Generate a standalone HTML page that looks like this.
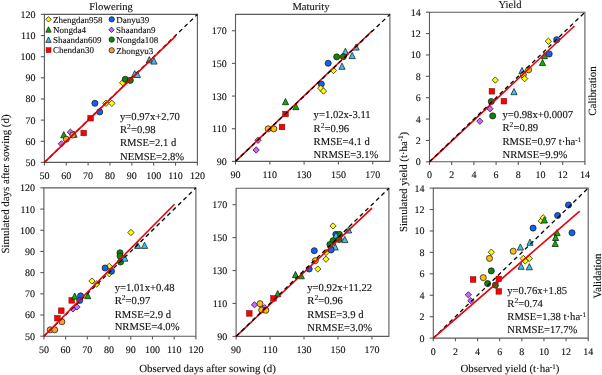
<!DOCTYPE html><html><head><meta charset="utf-8"><style>html,body{margin:0;padding:0;background:#fff;width:602px;height:375px;overflow:hidden}svg{display:block}#w{will-change:transform;background:#fff}text{font-family:"Liberation Serif",serif;fill:#111;stroke:#111;stroke-width:0.12px;text-rendering:geometricPrecision}</style></head><body>
<div id="w"><svg width="602" height="375" viewBox="0 0 602 375">
<text x="111" y="10" text-anchor="middle" font-size="10.6">Flowering</text>
<text x="311" y="10" text-anchor="middle" font-size="10.6">Maturity</text>
<text x="510" y="8.3" text-anchor="middle" font-size="10.6">Yield</text>
<text transform="translate(9.3 184) rotate(-90)" text-anchor="middle" font-size="10.9">Simulated days after sowing (d)</text>
<text x="207.5" y="371.5" text-anchor="middle" font-size="10.9">Observed days after sowing (d)</text>
<text transform="translate(406.5 182) rotate(-90)" text-anchor="middle" font-size="10.75">Simulated yield (t·ha<tspan dy="-3.5" font-size="7">-1</tspan><tspan dy="3.5">)</tspan></text>
<text x="510" y="372" text-anchor="middle" font-size="10.9">Observed yield (t·ha<tspan dy="-3.5" font-size="7">-1</tspan><tspan dy="3.5">)</tspan></text>
<text transform="translate(596 91) rotate(-90)" text-anchor="middle" font-size="11">Calibration</text>
<text transform="translate(601 276) rotate(-90)" text-anchor="middle" font-size="11">Validation</text>
<path d="M44.4 14.4H197.4V162.4H44.4Z" fill="none" stroke="#5a5a5a" stroke-width="1.1"/>
<line x1="44.40" y1="162.4" x2="44.40" y2="165.60" stroke="#5a5a5a" stroke-width="1.1"/>
<line x1="40.80" y1="162.40" x2="44.4" y2="162.40" stroke="#5a5a5a" stroke-width="1.1"/>
<text x="44.4" y="179.0" text-anchor="middle" font-size="10">50</text>
<text x="35.6" y="165.8" text-anchor="end" font-size="10">50</text>
<line x1="66.26" y1="162.4" x2="66.26" y2="165.60" stroke="#5a5a5a" stroke-width="1.1"/>
<line x1="40.80" y1="141.26" x2="44.4" y2="141.26" stroke="#5a5a5a" stroke-width="1.1"/>
<text x="66.3" y="179.0" text-anchor="middle" font-size="10">60</text>
<text x="35.6" y="144.7" text-anchor="end" font-size="10">60</text>
<line x1="88.11" y1="162.4" x2="88.11" y2="165.60" stroke="#5a5a5a" stroke-width="1.1"/>
<line x1="40.80" y1="120.11" x2="44.4" y2="120.11" stroke="#5a5a5a" stroke-width="1.1"/>
<text x="88.1" y="179.0" text-anchor="middle" font-size="10">70</text>
<text x="35.6" y="123.5" text-anchor="end" font-size="10">70</text>
<line x1="109.97" y1="162.4" x2="109.97" y2="165.60" stroke="#5a5a5a" stroke-width="1.1"/>
<line x1="40.80" y1="98.97" x2="44.4" y2="98.97" stroke="#5a5a5a" stroke-width="1.1"/>
<text x="110.0" y="179.0" text-anchor="middle" font-size="10">80</text>
<text x="35.6" y="102.4" text-anchor="end" font-size="10">80</text>
<line x1="131.83" y1="162.4" x2="131.83" y2="165.60" stroke="#5a5a5a" stroke-width="1.1"/>
<line x1="40.80" y1="77.83" x2="44.4" y2="77.83" stroke="#5a5a5a" stroke-width="1.1"/>
<text x="131.8" y="179.0" text-anchor="middle" font-size="10">90</text>
<text x="35.6" y="81.2" text-anchor="end" font-size="10">90</text>
<line x1="153.69" y1="162.4" x2="153.69" y2="165.60" stroke="#5a5a5a" stroke-width="1.1"/>
<line x1="40.80" y1="56.69" x2="44.4" y2="56.69" stroke="#5a5a5a" stroke-width="1.1"/>
<text x="153.7" y="179.0" text-anchor="middle" font-size="10">100</text>
<text x="35.6" y="60.1" text-anchor="end" font-size="10">100</text>
<line x1="175.54" y1="162.4" x2="175.54" y2="165.60" stroke="#5a5a5a" stroke-width="1.1"/>
<line x1="40.80" y1="35.54" x2="44.4" y2="35.54" stroke="#5a5a5a" stroke-width="1.1"/>
<text x="175.5" y="179.0" text-anchor="middle" font-size="10">110</text>
<text x="35.6" y="38.9" text-anchor="end" font-size="10">110</text>
<line x1="197.40" y1="162.4" x2="197.40" y2="165.60" stroke="#5a5a5a" stroke-width="1.1"/>
<line x1="40.80" y1="14.40" x2="44.4" y2="14.40" stroke="#5a5a5a" stroke-width="1.1"/>
<text x="197.4" y="179.0" text-anchor="middle" font-size="10">120</text>
<text x="35.6" y="17.8" text-anchor="end" font-size="10">120</text>
<path d="M48.5 16.6L51.2 19.3L48.5 22.0L45.8 19.3Z" fill="#FFFF00" stroke="#1a1a1a" stroke-width="0.75"/>
<text x="53.1" y="22.5" font-size="9.0">Zhengdan958</text>
<path d="M48.5 26.8L51.2 32.2L45.8 32.2Z" fill="#00B400" stroke="#1a1a1a" stroke-width="0.75" stroke-linejoin="miter"/>
<text x="53.1" y="33.0" font-size="9.0">Nongda4</text>
<path d="M48.5 37.0L51.2 42.4L45.8 42.4Z" fill="#30C8F0" stroke="#1a1a1a" stroke-width="0.75" stroke-linejoin="miter"/>
<text x="53.1" y="43.2" font-size="9.0">Shaandan609</text>
<rect x="46.1" y="47.7" width="4.9" height="4.9" fill="#FF0000" stroke="#700" stroke-width="0.5"/>
<text x="53.1" y="53.3" font-size="9.0">Chendan30</text>
<circle cx="111.7" cy="19.3" r="2.65" fill="#0A64F5" stroke="#1a1a1a" stroke-width="0.75"/>
<text x="116.3" y="22.5" font-size="9.0">Danyu39</text>
<path d="M111.5 27.1L114.2 29.8L111.5 32.5L108.8 29.8Z" fill="#CC66FF" stroke="#1a1a1a" stroke-width="0.75"/>
<text x="116.1" y="33.0" font-size="9.0">Shaandan9</text>
<circle cx="111.7" cy="39.6" r="2.65" fill="#0E850E" stroke="#1a1a1a" stroke-width="0.75"/>
<text x="116.3" y="42.8" font-size="9.0">Nongda108</text>
<circle cx="111.7" cy="50.3" r="2.65" fill="#F5A030" stroke="#1a1a1a" stroke-width="0.75"/>
<text x="116.3" y="53.5" font-size="9.0">Zhongyu3</text>
<text x="120" y="119.7" font-size="10.65">y=0.97x+2.70</text>
<text x="120" y="132.5" font-size="10.65">R<tspan dy="-4" font-size="7.6">2</tspan><tspan dy="4">=0.98</tspan></text>
<text x="120" y="146.1" font-size="10.65">RMSE=2.1 d</text>
<text x="120" y="159.8" font-size="10.65">NEMSE=2.8%</text>
<path d="M235.5 14.4H389.9V161.4H235.5Z" fill="none" stroke="#5a5a5a" stroke-width="1.1"/>
<line x1="235.50" y1="161.4" x2="235.50" y2="164.60" stroke="#5a5a5a" stroke-width="1.1"/>
<line x1="231.90" y1="161.40" x2="235.5" y2="161.40" stroke="#5a5a5a" stroke-width="1.1"/>
<text x="235.5" y="178.0" text-anchor="middle" font-size="10">90</text>
<text x="226.7" y="164.8" text-anchor="end" font-size="10">90</text>
<line x1="269.81" y1="161.4" x2="269.81" y2="164.60" stroke="#5a5a5a" stroke-width="1.1"/>
<line x1="231.90" y1="128.73" x2="235.5" y2="128.73" stroke="#5a5a5a" stroke-width="1.1"/>
<text x="269.8" y="178.0" text-anchor="middle" font-size="10">110</text>
<text x="226.7" y="132.1" text-anchor="end" font-size="10">110</text>
<line x1="304.12" y1="161.4" x2="304.12" y2="164.60" stroke="#5a5a5a" stroke-width="1.1"/>
<line x1="231.90" y1="96.07" x2="235.5" y2="96.07" stroke="#5a5a5a" stroke-width="1.1"/>
<text x="304.1" y="178.0" text-anchor="middle" font-size="10">130</text>
<text x="226.7" y="99.5" text-anchor="end" font-size="10">130</text>
<line x1="338.43" y1="161.4" x2="338.43" y2="164.60" stroke="#5a5a5a" stroke-width="1.1"/>
<line x1="231.90" y1="63.40" x2="235.5" y2="63.40" stroke="#5a5a5a" stroke-width="1.1"/>
<text x="338.4" y="178.0" text-anchor="middle" font-size="10">150</text>
<text x="226.7" y="66.8" text-anchor="end" font-size="10">150</text>
<line x1="372.74" y1="161.4" x2="372.74" y2="164.60" stroke="#5a5a5a" stroke-width="1.1"/>
<line x1="231.90" y1="30.73" x2="235.5" y2="30.73" stroke="#5a5a5a" stroke-width="1.1"/>
<text x="372.7" y="178.0" text-anchor="middle" font-size="10">170</text>
<text x="226.7" y="34.1" text-anchor="end" font-size="10">170</text>
<text x="313.6" y="118.1" font-size="10.65">y=1.02x-3.11</text>
<text x="313.6" y="131.7" font-size="10.65">R<tspan dy="-4" font-size="7.6">2</tspan><tspan dy="4">=0.96</tspan></text>
<text x="313.6" y="145.0" font-size="10.65">RMSE=4.1 d</text>
<text x="313.6" y="158.2" font-size="10.65">NRMSE=3.1%</text>
<path d="M429.5 12.2H584.9V161.8H429.5Z" fill="none" stroke="#5a5a5a" stroke-width="1.1"/>
<line x1="429.50" y1="161.8" x2="429.50" y2="165.00" stroke="#5a5a5a" stroke-width="1.1"/>
<line x1="425.90" y1="161.80" x2="429.5" y2="161.80" stroke="#5a5a5a" stroke-width="1.1"/>
<text x="429.5" y="178.4" text-anchor="middle" font-size="10">0</text>
<text x="420.7" y="165.2" text-anchor="end" font-size="10">0</text>
<line x1="451.70" y1="161.8" x2="451.70" y2="165.00" stroke="#5a5a5a" stroke-width="1.1"/>
<line x1="425.90" y1="140.43" x2="429.5" y2="140.43" stroke="#5a5a5a" stroke-width="1.1"/>
<text x="451.7" y="178.4" text-anchor="middle" font-size="10">2</text>
<text x="420.7" y="143.8" text-anchor="end" font-size="10">2</text>
<line x1="473.90" y1="161.8" x2="473.90" y2="165.00" stroke="#5a5a5a" stroke-width="1.1"/>
<line x1="425.90" y1="119.06" x2="429.5" y2="119.06" stroke="#5a5a5a" stroke-width="1.1"/>
<text x="473.9" y="178.4" text-anchor="middle" font-size="10">4</text>
<text x="420.7" y="122.5" text-anchor="end" font-size="10">4</text>
<line x1="496.10" y1="161.8" x2="496.10" y2="165.00" stroke="#5a5a5a" stroke-width="1.1"/>
<line x1="425.90" y1="97.69" x2="429.5" y2="97.69" stroke="#5a5a5a" stroke-width="1.1"/>
<text x="496.1" y="178.4" text-anchor="middle" font-size="10">6</text>
<text x="420.7" y="101.1" text-anchor="end" font-size="10">6</text>
<line x1="518.30" y1="161.8" x2="518.30" y2="165.00" stroke="#5a5a5a" stroke-width="1.1"/>
<line x1="425.90" y1="76.31" x2="429.5" y2="76.31" stroke="#5a5a5a" stroke-width="1.1"/>
<text x="518.3" y="178.4" text-anchor="middle" font-size="10">8</text>
<text x="420.7" y="79.7" text-anchor="end" font-size="10">8</text>
<line x1="540.50" y1="161.8" x2="540.50" y2="165.00" stroke="#5a5a5a" stroke-width="1.1"/>
<line x1="425.90" y1="54.94" x2="429.5" y2="54.94" stroke="#5a5a5a" stroke-width="1.1"/>
<text x="540.5" y="178.4" text-anchor="middle" font-size="10">10</text>
<text x="420.7" y="58.3" text-anchor="end" font-size="10">10</text>
<line x1="562.70" y1="161.8" x2="562.70" y2="165.00" stroke="#5a5a5a" stroke-width="1.1"/>
<line x1="425.90" y1="33.57" x2="429.5" y2="33.57" stroke="#5a5a5a" stroke-width="1.1"/>
<text x="562.7" y="178.4" text-anchor="middle" font-size="10">12</text>
<text x="420.7" y="37.0" text-anchor="end" font-size="10">12</text>
<line x1="584.90" y1="161.8" x2="584.90" y2="165.00" stroke="#5a5a5a" stroke-width="1.1"/>
<line x1="425.90" y1="12.20" x2="429.5" y2="12.20" stroke="#5a5a5a" stroke-width="1.1"/>
<text x="584.9" y="178.4" text-anchor="middle" font-size="10">14</text>
<text x="420.7" y="15.6" text-anchor="end" font-size="10">14</text>
<text x="502.5" y="118.2" font-size="10.65">y=0.98x+0.0007</text>
<text x="502.5" y="131.2" font-size="10.65">R<tspan dy="-4" font-size="7.6">2</tspan><tspan dy="4">=0.89</tspan></text>
<text x="502.5" y="145.1" font-size="10.65">RMSE=0.97 t·ha<tspan dy="-3.5" font-size="7">-1</tspan></text>
<text x="502.5" y="158.1" font-size="10.65">NRMSE=9.9%</text>
<path d="M43.9 187.9H195.9V336.2H43.9Z" fill="none" stroke="#5a5a5a" stroke-width="1.1"/>
<line x1="43.90" y1="336.2" x2="43.90" y2="339.40" stroke="#5a5a5a" stroke-width="1.1"/>
<line x1="40.30" y1="336.20" x2="43.9" y2="336.20" stroke="#5a5a5a" stroke-width="1.1"/>
<text x="43.9" y="352.8" text-anchor="middle" font-size="10">50</text>
<text x="35.1" y="339.6" text-anchor="end" font-size="10">50</text>
<line x1="65.61" y1="336.2" x2="65.61" y2="339.40" stroke="#5a5a5a" stroke-width="1.1"/>
<line x1="40.30" y1="315.01" x2="43.9" y2="315.01" stroke="#5a5a5a" stroke-width="1.1"/>
<text x="65.6" y="352.8" text-anchor="middle" font-size="10">60</text>
<text x="35.1" y="318.4" text-anchor="end" font-size="10">60</text>
<line x1="87.33" y1="336.2" x2="87.33" y2="339.40" stroke="#5a5a5a" stroke-width="1.1"/>
<line x1="40.30" y1="293.83" x2="43.9" y2="293.83" stroke="#5a5a5a" stroke-width="1.1"/>
<text x="87.3" y="352.8" text-anchor="middle" font-size="10">70</text>
<text x="35.1" y="297.2" text-anchor="end" font-size="10">70</text>
<line x1="109.04" y1="336.2" x2="109.04" y2="339.40" stroke="#5a5a5a" stroke-width="1.1"/>
<line x1="40.30" y1="272.64" x2="43.9" y2="272.64" stroke="#5a5a5a" stroke-width="1.1"/>
<text x="109.0" y="352.8" text-anchor="middle" font-size="10">80</text>
<text x="35.1" y="276.0" text-anchor="end" font-size="10">80</text>
<line x1="130.76" y1="336.2" x2="130.76" y2="339.40" stroke="#5a5a5a" stroke-width="1.1"/>
<line x1="40.30" y1="251.46" x2="43.9" y2="251.46" stroke="#5a5a5a" stroke-width="1.1"/>
<text x="130.8" y="352.8" text-anchor="middle" font-size="10">90</text>
<text x="35.1" y="254.9" text-anchor="end" font-size="10">90</text>
<line x1="152.47" y1="336.2" x2="152.47" y2="339.40" stroke="#5a5a5a" stroke-width="1.1"/>
<line x1="40.30" y1="230.27" x2="43.9" y2="230.27" stroke="#5a5a5a" stroke-width="1.1"/>
<text x="152.5" y="352.8" text-anchor="middle" font-size="10">100</text>
<text x="35.1" y="233.7" text-anchor="end" font-size="10">100</text>
<line x1="174.19" y1="336.2" x2="174.19" y2="339.40" stroke="#5a5a5a" stroke-width="1.1"/>
<line x1="40.30" y1="209.09" x2="43.9" y2="209.09" stroke="#5a5a5a" stroke-width="1.1"/>
<text x="174.2" y="352.8" text-anchor="middle" font-size="10">110</text>
<text x="35.1" y="212.5" text-anchor="end" font-size="10">110</text>
<line x1="195.90" y1="336.2" x2="195.90" y2="339.40" stroke="#5a5a5a" stroke-width="1.1"/>
<line x1="40.30" y1="187.90" x2="43.9" y2="187.90" stroke="#5a5a5a" stroke-width="1.1"/>
<text x="195.9" y="352.8" text-anchor="middle" font-size="10">120</text>
<text x="35.1" y="191.3" text-anchor="end" font-size="10">120</text>
<text x="114.7" y="290.8" font-size="10.65">y=1.01x+0.48</text>
<text x="114.7" y="303.8" font-size="10.65">R<tspan dy="-4" font-size="7.6">2</tspan><tspan dy="4">=0.97</tspan></text>
<text x="114.7" y="317.7" font-size="10.65">RMSE=2.9 d</text>
<text x="114.7" y="329.8" font-size="10.65">NRMSE=4.0%</text>
<path d="M236.1 188.2H388.9V336.4H236.1Z" fill="none" stroke="#5a5a5a" stroke-width="1.1"/>
<line x1="236.10" y1="336.4" x2="236.10" y2="339.60" stroke="#5a5a5a" stroke-width="1.1"/>
<line x1="232.50" y1="336.40" x2="236.1" y2="336.40" stroke="#5a5a5a" stroke-width="1.1"/>
<text x="236.1" y="353.0" text-anchor="middle" font-size="10">90</text>
<text x="227.3" y="339.8" text-anchor="end" font-size="10">90</text>
<line x1="270.06" y1="336.4" x2="270.06" y2="339.60" stroke="#5a5a5a" stroke-width="1.1"/>
<line x1="232.50" y1="303.47" x2="236.1" y2="303.47" stroke="#5a5a5a" stroke-width="1.1"/>
<text x="270.1" y="353.0" text-anchor="middle" font-size="10">110</text>
<text x="227.3" y="306.9" text-anchor="end" font-size="10">110</text>
<line x1="304.01" y1="336.4" x2="304.01" y2="339.60" stroke="#5a5a5a" stroke-width="1.1"/>
<line x1="232.50" y1="270.53" x2="236.1" y2="270.53" stroke="#5a5a5a" stroke-width="1.1"/>
<text x="304.0" y="353.0" text-anchor="middle" font-size="10">130</text>
<text x="227.3" y="273.9" text-anchor="end" font-size="10">130</text>
<line x1="337.97" y1="336.4" x2="337.97" y2="339.60" stroke="#5a5a5a" stroke-width="1.1"/>
<line x1="232.50" y1="237.60" x2="236.1" y2="237.60" stroke="#5a5a5a" stroke-width="1.1"/>
<text x="338.0" y="353.0" text-anchor="middle" font-size="10">150</text>
<text x="227.3" y="241.0" text-anchor="end" font-size="10">150</text>
<line x1="371.92" y1="336.4" x2="371.92" y2="339.60" stroke="#5a5a5a" stroke-width="1.1"/>
<line x1="232.50" y1="204.67" x2="236.1" y2="204.67" stroke="#5a5a5a" stroke-width="1.1"/>
<text x="371.9" y="353.0" text-anchor="middle" font-size="10">170</text>
<text x="227.3" y="208.1" text-anchor="end" font-size="10">170</text>
<text x="307.3" y="290.8" font-size="10.65">y=0.92x+11.22</text>
<text x="307.3" y="303.8" font-size="10.65">R<tspan dy="-4" font-size="7.6">2</tspan><tspan dy="4">=0.96</tspan></text>
<text x="307.3" y="317.7" font-size="10.65">RMSE=3.9 d</text>
<text x="307.3" y="330.5" font-size="10.65">NRMSE=3.0%</text>
<path d="M433.3 188.1H588.2V338.1H433.3Z" fill="none" stroke="#5a5a5a" stroke-width="1.1"/>
<line x1="433.30" y1="338.1" x2="433.30" y2="341.30" stroke="#5a5a5a" stroke-width="1.1"/>
<line x1="429.70" y1="338.10" x2="433.3" y2="338.10" stroke="#5a5a5a" stroke-width="1.1"/>
<text x="433.3" y="354.7" text-anchor="middle" font-size="10">0</text>
<text x="424.5" y="341.5" text-anchor="end" font-size="10">0</text>
<line x1="455.43" y1="338.1" x2="455.43" y2="341.30" stroke="#5a5a5a" stroke-width="1.1"/>
<line x1="429.70" y1="316.67" x2="433.3" y2="316.67" stroke="#5a5a5a" stroke-width="1.1"/>
<text x="455.4" y="354.7" text-anchor="middle" font-size="10">2</text>
<text x="424.5" y="320.1" text-anchor="end" font-size="10">2</text>
<line x1="477.56" y1="338.1" x2="477.56" y2="341.30" stroke="#5a5a5a" stroke-width="1.1"/>
<line x1="429.70" y1="295.24" x2="433.3" y2="295.24" stroke="#5a5a5a" stroke-width="1.1"/>
<text x="477.6" y="354.7" text-anchor="middle" font-size="10">4</text>
<text x="424.5" y="298.6" text-anchor="end" font-size="10">4</text>
<line x1="499.69" y1="338.1" x2="499.69" y2="341.30" stroke="#5a5a5a" stroke-width="1.1"/>
<line x1="429.70" y1="273.81" x2="433.3" y2="273.81" stroke="#5a5a5a" stroke-width="1.1"/>
<text x="499.7" y="354.7" text-anchor="middle" font-size="10">6</text>
<text x="424.5" y="277.2" text-anchor="end" font-size="10">6</text>
<line x1="521.81" y1="338.1" x2="521.81" y2="341.30" stroke="#5a5a5a" stroke-width="1.1"/>
<line x1="429.70" y1="252.39" x2="433.3" y2="252.39" stroke="#5a5a5a" stroke-width="1.1"/>
<text x="521.8" y="354.7" text-anchor="middle" font-size="10">8</text>
<text x="424.5" y="255.8" text-anchor="end" font-size="10">8</text>
<line x1="543.94" y1="338.1" x2="543.94" y2="341.30" stroke="#5a5a5a" stroke-width="1.1"/>
<line x1="429.70" y1="230.96" x2="433.3" y2="230.96" stroke="#5a5a5a" stroke-width="1.1"/>
<text x="543.9" y="354.7" text-anchor="middle" font-size="10">10</text>
<text x="424.5" y="234.4" text-anchor="end" font-size="10">10</text>
<line x1="566.07" y1="338.1" x2="566.07" y2="341.30" stroke="#5a5a5a" stroke-width="1.1"/>
<line x1="429.70" y1="209.53" x2="433.3" y2="209.53" stroke="#5a5a5a" stroke-width="1.1"/>
<text x="566.1" y="354.7" text-anchor="middle" font-size="10">12</text>
<text x="424.5" y="212.9" text-anchor="end" font-size="10">12</text>
<line x1="588.20" y1="338.1" x2="588.20" y2="341.30" stroke="#5a5a5a" stroke-width="1.1"/>
<line x1="429.70" y1="188.10" x2="433.3" y2="188.10" stroke="#5a5a5a" stroke-width="1.1"/>
<text x="588.2" y="354.7" text-anchor="middle" font-size="10">14</text>
<text x="424.5" y="191.5" text-anchor="end" font-size="10">14</text>
<text x="507.3" y="293.5" font-size="10.65">y=0.76x+1.85</text>
<text x="507.3" y="307.3" font-size="10.65">R<tspan dy="-4" font-size="7.6">2</tspan><tspan dy="4">=0.74</tspan></text>
<text x="507.3" y="320.3" font-size="10.65">RMSE=1.38 t·ha<tspan dy="-3.5" font-size="7">-1</tspan></text>
<text x="507.3" y="333.3" font-size="10.65">NRMSE=17.7%</text>
<circle cx="94.9" cy="103.3" r="3.05" fill="#0A64F5" stroke="#1a1a1a" stroke-width="0.75"/>
<path d="M106.0 100.1L109.2 103.3L106.0 106.5L102.8 103.3Z" fill="#FFFF00" stroke="#1a1a1a" stroke-width="0.75"/>
<path d="M111.8 100.1L115.0 103.3L111.8 106.5L108.6 103.3Z" fill="#FFFF00" stroke="#1a1a1a" stroke-width="0.75"/>
<circle cx="99.7" cy="111.9" r="3.05" fill="#0A64F5" stroke="#1a1a1a" stroke-width="0.75"/>
<rect x="87.8" y="115.4" width="5.6" height="5.6" fill="#FF0000" stroke="#700" stroke-width="0.5"/>
<rect x="80.9" y="130.2" width="5.6" height="5.6" fill="#FF0000" stroke="#700" stroke-width="0.5"/>
<path d="M63.8 131.6L66.9 137.8L60.7 137.8Z" fill="#00B400" stroke="#1a1a1a" stroke-width="0.75" stroke-linejoin="miter"/>
<path d="M70.4 129.0L73.6 132.2L70.4 135.3L67.2 132.2Z" fill="#CC66FF" stroke="#1a1a1a" stroke-width="0.75"/>
<path d="M74.0 131.1L77.1 137.3L70.9 137.3Z" fill="#30C8F0" stroke="#1a1a1a" stroke-width="0.75" stroke-linejoin="miter"/>
<circle cx="72.9" cy="135.0" r="3.05" fill="#F5A030" stroke="#1a1a1a" stroke-width="0.75"/>
<circle cx="66.3" cy="139.2" r="3.05" fill="#F5A030" stroke="#1a1a1a" stroke-width="0.75"/>
<path d="M61.4 140.7L64.5 143.8L61.4 147.0L58.2 143.8Z" fill="#CC66FF" stroke="#1a1a1a" stroke-width="0.75"/>
<path d="M149.3 56.6L152.4 62.8L146.2 62.8Z" fill="#30C8F0" stroke="#1a1a1a" stroke-width="0.75" stroke-linejoin="miter"/>
<path d="M154.0 57.9L157.1 64.1L150.9 64.1Z" fill="#30C8F0" stroke="#1a1a1a" stroke-width="0.75" stroke-linejoin="miter"/>
<path d="M134.7 70.6L137.8 76.8L131.6 76.8Z" fill="#30C8F0" stroke="#1a1a1a" stroke-width="0.75" stroke-linejoin="miter"/>
<path d="M137.3 71.3L140.4 77.5L134.2 77.5Z" fill="#30C8F0" stroke="#1a1a1a" stroke-width="0.75" stroke-linejoin="miter"/>
<path d="M122.7 79.5L125.9 82.7L122.7 85.9L119.5 82.7Z" fill="#FFFF00" stroke="#1a1a1a" stroke-width="0.75"/>
<circle cx="125.3" cy="79.3" r="3.05" fill="#0E850E" stroke="#1a1a1a" stroke-width="0.75"/>
<circle cx="130.3" cy="80.4" r="3.05" fill="#0E850E" stroke="#1a1a1a" stroke-width="0.75"/>
<path d="M285.5 98.5L288.6 104.7L282.4 104.7Z" fill="#00B400" stroke="#1a1a1a" stroke-width="0.75" stroke-linejoin="miter"/>
<path d="M295.9 103.5L299.0 109.7L292.8 109.7Z" fill="#00B400" stroke="#1a1a1a" stroke-width="0.75" stroke-linejoin="miter"/>
<rect x="282.7" y="111.2" width="5.6" height="5.6" fill="#FF0000" stroke="#700" stroke-width="0.5"/>
<rect x="279.2" y="124.2" width="5.6" height="5.6" fill="#FF0000" stroke="#700" stroke-width="0.5"/>
<circle cx="268.2" cy="128.8" r="3.05" fill="#FFC000" stroke="#1a1a1a" stroke-width="0.75"/>
<circle cx="273.8" cy="128.8" r="3.05" fill="#FFC000" stroke="#1a1a1a" stroke-width="0.75"/>
<path d="M258.0 137.2L261.1 140.3L258.0 143.5L254.8 140.3Z" fill="#CC66FF" stroke="#1a1a1a" stroke-width="0.75"/>
<path d="M256.2 146.8L259.3 150.0L256.2 153.2L253.0 150.0Z" fill="#CC66FF" stroke="#1a1a1a" stroke-width="0.75"/>
<path d="M356.1 43.9L359.2 50.1L353.0 50.1Z" fill="#30C8F0" stroke="#1a1a1a" stroke-width="0.75" stroke-linejoin="miter"/>
<path d="M345.4 48.2L348.5 54.4L342.3 54.4Z" fill="#30C8F0" stroke="#1a1a1a" stroke-width="0.75" stroke-linejoin="miter"/>
<path d="M352.2 52.4L355.3 58.6L349.1 58.6Z" fill="#30C8F0" stroke="#1a1a1a" stroke-width="0.75" stroke-linejoin="miter"/>
<circle cx="336.7" cy="56.9" r="3.05" fill="#0E850E" stroke="#1a1a1a" stroke-width="0.75"/>
<circle cx="343.3" cy="56.7" r="3.05" fill="#0E850E" stroke="#1a1a1a" stroke-width="0.75"/>
<circle cx="328.2" cy="63.3" r="3.05" fill="#0A64F5" stroke="#1a1a1a" stroke-width="0.75"/>
<path d="M342.0 63.1L345.1 69.3L338.9 69.3Z" fill="#30C8F0" stroke="#1a1a1a" stroke-width="0.75" stroke-linejoin="miter"/>
<path d="M333.5 67.3L336.6 70.5L333.5 73.7L330.4 70.5Z" fill="#FFFF00" stroke="#1a1a1a" stroke-width="0.75"/>
<circle cx="321.3" cy="84.0" r="3.05" fill="#0A64F5" stroke="#1a1a1a" stroke-width="0.75"/>
<path d="M320.7 85.0L323.8 88.2L320.7 91.4L317.6 88.2Z" fill="#FFFF00" stroke="#1a1a1a" stroke-width="0.75"/>
<path d="M323.5 87.8L326.6 91.0L323.5 94.2L320.4 91.0Z" fill="#FFFF00" stroke="#1a1a1a" stroke-width="0.75"/>
<path d="M548.4 38.1L551.5 41.2L548.4 44.4L545.2 41.2Z" fill="#FFFF00" stroke="#1a1a1a" stroke-width="0.75"/>
<circle cx="556.7" cy="39.7" r="3.05" fill="#0A64F5" stroke="#1a1a1a" stroke-width="0.75"/>
<circle cx="549.2" cy="54.0" r="3.05" fill="#0A64F5" stroke="#1a1a1a" stroke-width="0.75"/>
<path d="M544.4 52.5L547.5 58.7L541.3 58.7Z" fill="#00B400" stroke="#1a1a1a" stroke-width="0.75" stroke-linejoin="miter"/>
<path d="M542.5 59.4L545.6 65.6L539.4 65.6Z" fill="#00B400" stroke="#1a1a1a" stroke-width="0.75" stroke-linejoin="miter"/>
<path d="M522.0 67.4L525.1 73.6L518.9 73.6Z" fill="#30C8F0" stroke="#1a1a1a" stroke-width="0.75" stroke-linejoin="miter"/>
<circle cx="528.6" cy="69.8" r="3.05" fill="#FFC000" stroke="#1a1a1a" stroke-width="0.75"/>
<circle cx="523.3" cy="74.8" r="3.05" fill="#FFC000" stroke="#1a1a1a" stroke-width="0.75"/>
<path d="M524.6 75.4L527.8 78.6L524.6 81.8L521.5 78.6Z" fill="#FFFF00" stroke="#1a1a1a" stroke-width="0.75"/>
<path d="M495.3 76.9L498.4 80.1L495.3 83.2L492.2 80.1Z" fill="#FFFF00" stroke="#1a1a1a" stroke-width="0.75"/>
<path d="M514.0 88.5L517.1 94.7L510.9 94.7Z" fill="#30C8F0" stroke="#1a1a1a" stroke-width="0.75" stroke-linejoin="miter"/>
<rect x="489.1" y="88.5" width="5.6" height="5.6" fill="#FF0000" stroke="#700" stroke-width="0.5"/>
<rect x="501.1" y="98.4" width="5.6" height="5.6" fill="#FF0000" stroke="#700" stroke-width="0.5"/>
<circle cx="491.3" cy="101.5" r="3.05" fill="#0E850E" stroke="#1a1a1a" stroke-width="0.75"/>
<path d="M490.0 105.5L493.1 108.7L490.0 111.9L486.9 108.7Z" fill="#CC66FF" stroke="#1a1a1a" stroke-width="0.75"/>
<circle cx="492.7" cy="115.9" r="3.05" fill="#0E850E" stroke="#1a1a1a" stroke-width="0.75"/>
<path d="M479.9 118.0L483.0 121.2L479.9 124.4L476.8 121.2Z" fill="#CC66FF" stroke="#1a1a1a" stroke-width="0.75"/>
<circle cx="50.2" cy="329.8" r="3.05" fill="#F5A030" stroke="#1a1a1a" stroke-width="0.75"/>
<circle cx="54.7" cy="329.8" r="3.05" fill="#F5A030" stroke="#1a1a1a" stroke-width="0.75"/>
<circle cx="61.9" cy="321.8" r="3.05" fill="#F5A030" stroke="#1a1a1a" stroke-width="0.75"/>
<rect x="54.6" y="315.4" width="5.6" height="5.6" fill="#FF0000" stroke="#700" stroke-width="0.5"/>
<rect x="58.5" y="307.9" width="5.6" height="5.6" fill="#FF0000" stroke="#700" stroke-width="0.5"/>
<path d="M72.9 305.8L76.1 308.9L72.9 312.0L69.8 308.9Z" fill="#CC66FF" stroke="#1a1a1a" stroke-width="0.75"/>
<path d="M77.0 303.9L80.2 307.0L77.0 310.1L73.8 307.0Z" fill="#CC66FF" stroke="#1a1a1a" stroke-width="0.75"/>
<rect x="68.9" y="297.6" width="5.6" height="5.6" fill="#FF0000" stroke="#700" stroke-width="0.5"/>
<path d="M74.7 293.0L77.8 299.2L71.6 299.2Z" fill="#00B400" stroke="#1a1a1a" stroke-width="0.75" stroke-linejoin="miter"/>
<circle cx="80.6" cy="295.9" r="3.05" fill="#0A64F5" stroke="#1a1a1a" stroke-width="0.75"/>
<circle cx="79.7" cy="300.4" r="3.05" fill="#0A64F5" stroke="#1a1a1a" stroke-width="0.75"/>
<path d="M87.8 292.5L90.8 298.7L84.7 298.7Z" fill="#00B400" stroke="#1a1a1a" stroke-width="0.75" stroke-linejoin="miter"/>
<path d="M91.9 277.9L95.1 281.0L91.9 284.1L88.8 281.0Z" fill="#FFFF00" stroke="#1a1a1a" stroke-width="0.75"/>
<path d="M96.7 280.8L99.9 283.9L96.7 287.0L93.5 283.9Z" fill="#FFFF00" stroke="#1a1a1a" stroke-width="0.75"/>
<path d="M109.3 263.2L112.5 266.4L109.3 269.5L106.1 266.4Z" fill="#FFFF00" stroke="#1a1a1a" stroke-width="0.75"/>
<path d="M109.3 270.5L112.5 273.6L109.3 276.8L106.1 273.6Z" fill="#FFFF00" stroke="#1a1a1a" stroke-width="0.75"/>
<circle cx="105.1" cy="268.0" r="3.05" fill="#0A64F5" stroke="#1a1a1a" stroke-width="0.75"/>
<circle cx="111.5" cy="271.2" r="3.05" fill="#0A64F5" stroke="#1a1a1a" stroke-width="0.75"/>
<path d="M130.9 229.3L134.1 232.5L130.9 235.7L127.8 232.5Z" fill="#FFFF00" stroke="#1a1a1a" stroke-width="0.75"/>
<path d="M137.6 242.2L140.7 248.4L134.5 248.4Z" fill="#30C8F0" stroke="#1a1a1a" stroke-width="0.75" stroke-linejoin="miter"/>
<path d="M144.5 242.2L147.6 248.4L141.4 248.4Z" fill="#30C8F0" stroke="#1a1a1a" stroke-width="0.75" stroke-linejoin="miter"/>
<circle cx="120.0" cy="252.8" r="3.05" fill="#0E850E" stroke="#1a1a1a" stroke-width="0.75"/>
<circle cx="120.0" cy="256.0" r="3.05" fill="#0E850E" stroke="#1a1a1a" stroke-width="0.75"/>
<circle cx="120.5" cy="262.0" r="3.05" fill="#0E850E" stroke="#1a1a1a" stroke-width="0.75"/>
<path d="M124.8 255.0L127.9 261.2L121.7 261.2Z" fill="#30C8F0" stroke="#1a1a1a" stroke-width="0.75" stroke-linejoin="miter"/>
<path d="M295.5 271.4L298.6 277.6L292.4 277.6Z" fill="#00B400" stroke="#1a1a1a" stroke-width="0.75" stroke-linejoin="miter"/>
<path d="M301.3 272.6L304.4 278.8L298.2 278.8Z" fill="#00B400" stroke="#1a1a1a" stroke-width="0.75" stroke-linejoin="miter"/>
<path d="M277.7 290.5L280.8 296.7L274.6 296.7Z" fill="#00B400" stroke="#1a1a1a" stroke-width="0.75" stroke-linejoin="miter"/>
<rect x="270.6" y="295.6" width="5.6" height="5.6" fill="#FF0000" stroke="#700" stroke-width="0.5"/>
<path d="M254.5 301.7L257.6 304.8L254.5 307.9L251.3 304.8Z" fill="#CC66FF" stroke="#1a1a1a" stroke-width="0.75"/>
<circle cx="260.0" cy="303.7" r="3.05" fill="#FFC000" stroke="#1a1a1a" stroke-width="0.75"/>
<path d="M264.7 304.5L267.8 307.6L264.7 310.8L261.6 307.6Z" fill="#CC66FF" stroke="#1a1a1a" stroke-width="0.75"/>
<circle cx="261.7" cy="310.0" r="3.05" fill="#FFC000" stroke="#1a1a1a" stroke-width="0.75"/>
<circle cx="265.8" cy="310.3" r="3.05" fill="#FFC000" stroke="#1a1a1a" stroke-width="0.75"/>
<rect x="246.5" y="310.6" width="5.6" height="5.6" fill="#FF0000" stroke="#700" stroke-width="0.5"/>
<path d="M333.0 222.8L336.1 225.9L333.0 229.1L329.9 225.9Z" fill="#FFFF00" stroke="#1a1a1a" stroke-width="0.75"/>
<path d="M348.6 226.8L351.7 233.0L345.5 233.0Z" fill="#30C8F0" stroke="#1a1a1a" stroke-width="0.75" stroke-linejoin="miter"/>
<circle cx="335.8" cy="234.4" r="3.05" fill="#0A64F5" stroke="#1a1a1a" stroke-width="0.75"/>
<circle cx="339.4" cy="234.4" r="3.05" fill="#0E850E" stroke="#1a1a1a" stroke-width="0.75"/>
<path d="M336.0 232.1L339.1 238.3L332.9 238.3Z" fill="#30C8F0" stroke="#1a1a1a" stroke-width="0.75" stroke-linejoin="miter"/>
<circle cx="339.2" cy="239.5" r="3.05" fill="#0E850E" stroke="#1a1a1a" stroke-width="0.75"/>
<path d="M344.8 236.4L347.9 242.6L341.7 242.6Z" fill="#30C8F0" stroke="#1a1a1a" stroke-width="0.75" stroke-linejoin="miter"/>
<circle cx="333.0" cy="240.8" r="3.05" fill="#0E850E" stroke="#1a1a1a" stroke-width="0.75"/>
<circle cx="329.9" cy="244.5" r="3.05" fill="#0E850E" stroke="#1a1a1a" stroke-width="0.75"/>
<path d="M335.2 243.8L338.3 250.0L332.1 250.0Z" fill="#30C8F0" stroke="#1a1a1a" stroke-width="0.75" stroke-linejoin="miter"/>
<circle cx="331.1" cy="250.0" r="3.05" fill="#0A64F5" stroke="#1a1a1a" stroke-width="0.75"/>
<circle cx="314.3" cy="250.7" r="3.05" fill="#0A64F5" stroke="#1a1a1a" stroke-width="0.75"/>
<path d="M326.0 249.3L329.1 252.5L326.0 255.7L322.9 252.5Z" fill="#FFFF00" stroke="#1a1a1a" stroke-width="0.75"/>
<path d="M326.0 256.1L329.1 259.2L326.0 262.3L322.9 259.2Z" fill="#FFFF00" stroke="#1a1a1a" stroke-width="0.75"/>
<circle cx="315.3" cy="260.7" r="3.05" fill="#FFC000" stroke="#1a1a1a" stroke-width="0.75"/>
<circle cx="309.2" cy="269.0" r="3.05" fill="#0A64F5" stroke="#1a1a1a" stroke-width="0.75"/>
<path d="M317.8 265.9L320.9 269.0L317.8 272.1L314.7 269.0Z" fill="#FFFF00" stroke="#1a1a1a" stroke-width="0.75"/>
<path d="M491.3 249.0L494.4 252.2L491.3 255.3L488.2 252.2Z" fill="#FFFF00" stroke="#1a1a1a" stroke-width="0.75"/>
<circle cx="489.5" cy="258.4" r="3.05" fill="#FFC000" stroke="#1a1a1a" stroke-width="0.75"/>
<circle cx="513.2" cy="251.2" r="3.05" fill="#FFC000" stroke="#1a1a1a" stroke-width="0.75"/>
<circle cx="491.3" cy="270.9" r="3.05" fill="#0E850E" stroke="#1a1a1a" stroke-width="0.75"/>
<rect x="470.3" y="276.7" width="5.6" height="5.6" fill="#FF0000" stroke="#700" stroke-width="0.5"/>
<circle cx="483.3" cy="277.6" r="3.05" fill="#FFC000" stroke="#1a1a1a" stroke-width="0.75"/>
<rect x="496.0" y="276.1" width="5.6" height="5.6" fill="#FF0000" stroke="#700" stroke-width="0.5"/>
<circle cx="487.6" cy="283.6" r="3.05" fill="#0E850E" stroke="#1a1a1a" stroke-width="0.75"/>
<circle cx="495.4" cy="285.1" r="3.05" fill="#0E850E" stroke="#1a1a1a" stroke-width="0.75"/>
<rect x="496.0" y="288.6" width="5.6" height="5.6" fill="#FF0000" stroke="#700" stroke-width="0.5"/>
<path d="M468.4 291.7L471.5 294.8L468.4 297.9L465.2 294.8Z" fill="#CC66FF" stroke="#1a1a1a" stroke-width="0.75"/>
<path d="M470.8 297.6L473.9 300.7L470.8 303.8L467.7 300.7Z" fill="#CC66FF" stroke="#1a1a1a" stroke-width="0.75"/>
<circle cx="568.5" cy="205.0" r="3.05" fill="#0A64F5" stroke="#1a1a1a" stroke-width="0.75"/>
<circle cx="557.6" cy="215.5" r="3.05" fill="#0A64F5" stroke="#1a1a1a" stroke-width="0.75"/>
<circle cx="533.1" cy="228.1" r="3.05" fill="#0A64F5" stroke="#1a1a1a" stroke-width="0.75"/>
<circle cx="572.0" cy="232.8" r="3.05" fill="#0A64F5" stroke="#1a1a1a" stroke-width="0.75"/>
<path d="M541.2 217.8L544.4 220.9L541.2 224.1L538.1 220.9Z" fill="#FFFF00" stroke="#1a1a1a" stroke-width="0.75"/>
<path d="M543.2 214.7L546.4 217.8L543.2 221.0L540.1 217.8Z" fill="#FFFF00" stroke="#1a1a1a" stroke-width="0.75"/>
<path d="M544.4 216.8L547.5 223.0L541.3 223.0Z" fill="#00B400" stroke="#1a1a1a" stroke-width="0.75" stroke-linejoin="miter"/>
<path d="M557.1 229.5L560.2 235.7L554.0 235.7Z" fill="#00B400" stroke="#1a1a1a" stroke-width="0.75" stroke-linejoin="miter"/>
<path d="M555.6 234.3L558.7 240.5L552.5 240.5Z" fill="#00B400" stroke="#1a1a1a" stroke-width="0.75" stroke-linejoin="miter"/>
<path d="M555.2 240.3L558.3 246.5L552.1 246.5Z" fill="#00B400" stroke="#1a1a1a" stroke-width="0.75" stroke-linejoin="miter"/>
<path d="M530.0 239.1L533.1 245.3L526.9 245.3Z" fill="#30C8F0" stroke="#1a1a1a" stroke-width="0.75" stroke-linejoin="miter"/>
<path d="M520.4 243.9L523.5 250.1L517.3 250.1Z" fill="#30C8F0" stroke="#1a1a1a" stroke-width="0.75" stroke-linejoin="miter"/>
<path d="M523.3 255.3L526.4 258.5L523.3 261.6L520.1 258.5Z" fill="#FFFF00" stroke="#1a1a1a" stroke-width="0.75"/>
<path d="M529.3 255.3L532.4 258.5L529.3 261.6L526.1 258.5Z" fill="#FFFF00" stroke="#1a1a1a" stroke-width="0.75"/>
<path d="M525.2 257.9L528.4 261.0L525.2 264.1L522.1 261.0Z" fill="#FFFF00" stroke="#1a1a1a" stroke-width="0.75"/>
<path d="M521.1 263.1L524.2 269.3L518.0 269.3Z" fill="#30C8F0" stroke="#1a1a1a" stroke-width="0.75" stroke-linejoin="miter"/>
<path d="M529.3 263.6L532.4 269.8L526.2 269.8Z" fill="#30C8F0" stroke="#1a1a1a" stroke-width="0.75" stroke-linejoin="miter"/>
<line x1="44.4" y1="162.4" x2="197.4" y2="14.4" stroke="#000" stroke-width="1.3" stroke-dasharray="4.2 3.3"/>
<line x1="44.4" y1="162.4" x2="175.6" y2="36.2" stroke="#E8000B" stroke-width="1.6"/>
<line x1="235.5" y1="161.4" x2="372.5" y2="30.5" stroke="#E8000B" stroke-width="1.6"/>
<line x1="235.5" y1="161.4" x2="389.9" y2="14.4" stroke="#000" stroke-width="1.3" stroke-dasharray="4.2 3.3"/>
<line x1="429.5" y1="161.8" x2="574.4" y2="26" stroke="#E8000B" stroke-width="1.6"/>
<line x1="429.5" y1="161.8" x2="584.9" y2="12.2" stroke="#000" stroke-width="1.3" stroke-dasharray="4.2 3.3"/>
<line x1="43.9" y1="336.2" x2="195.9" y2="187.9" stroke="#000" stroke-width="1.3" stroke-dasharray="4.2 3.3"/>
<line x1="43.9" y1="336.2" x2="174.5" y2="204.3" stroke="#E8000B" stroke-width="1.6"/>
<line x1="236.1" y1="336.4" x2="372" y2="208.2" stroke="#E8000B" stroke-width="1.6"/>
<line x1="236.1" y1="336.4" x2="388.9" y2="188.2" stroke="#000" stroke-width="1.3" stroke-dasharray="4.2 3.3"/>
<line x1="433.3" y1="338.1" x2="588.2" y2="188.1" stroke="#000" stroke-width="1.3" stroke-dasharray="4.2 3.3"/>
<line x1="433.3" y1="338.1" x2="579.7" y2="211.2" stroke="#E8000B" stroke-width="1.6"/>
</svg></div></body></html>
